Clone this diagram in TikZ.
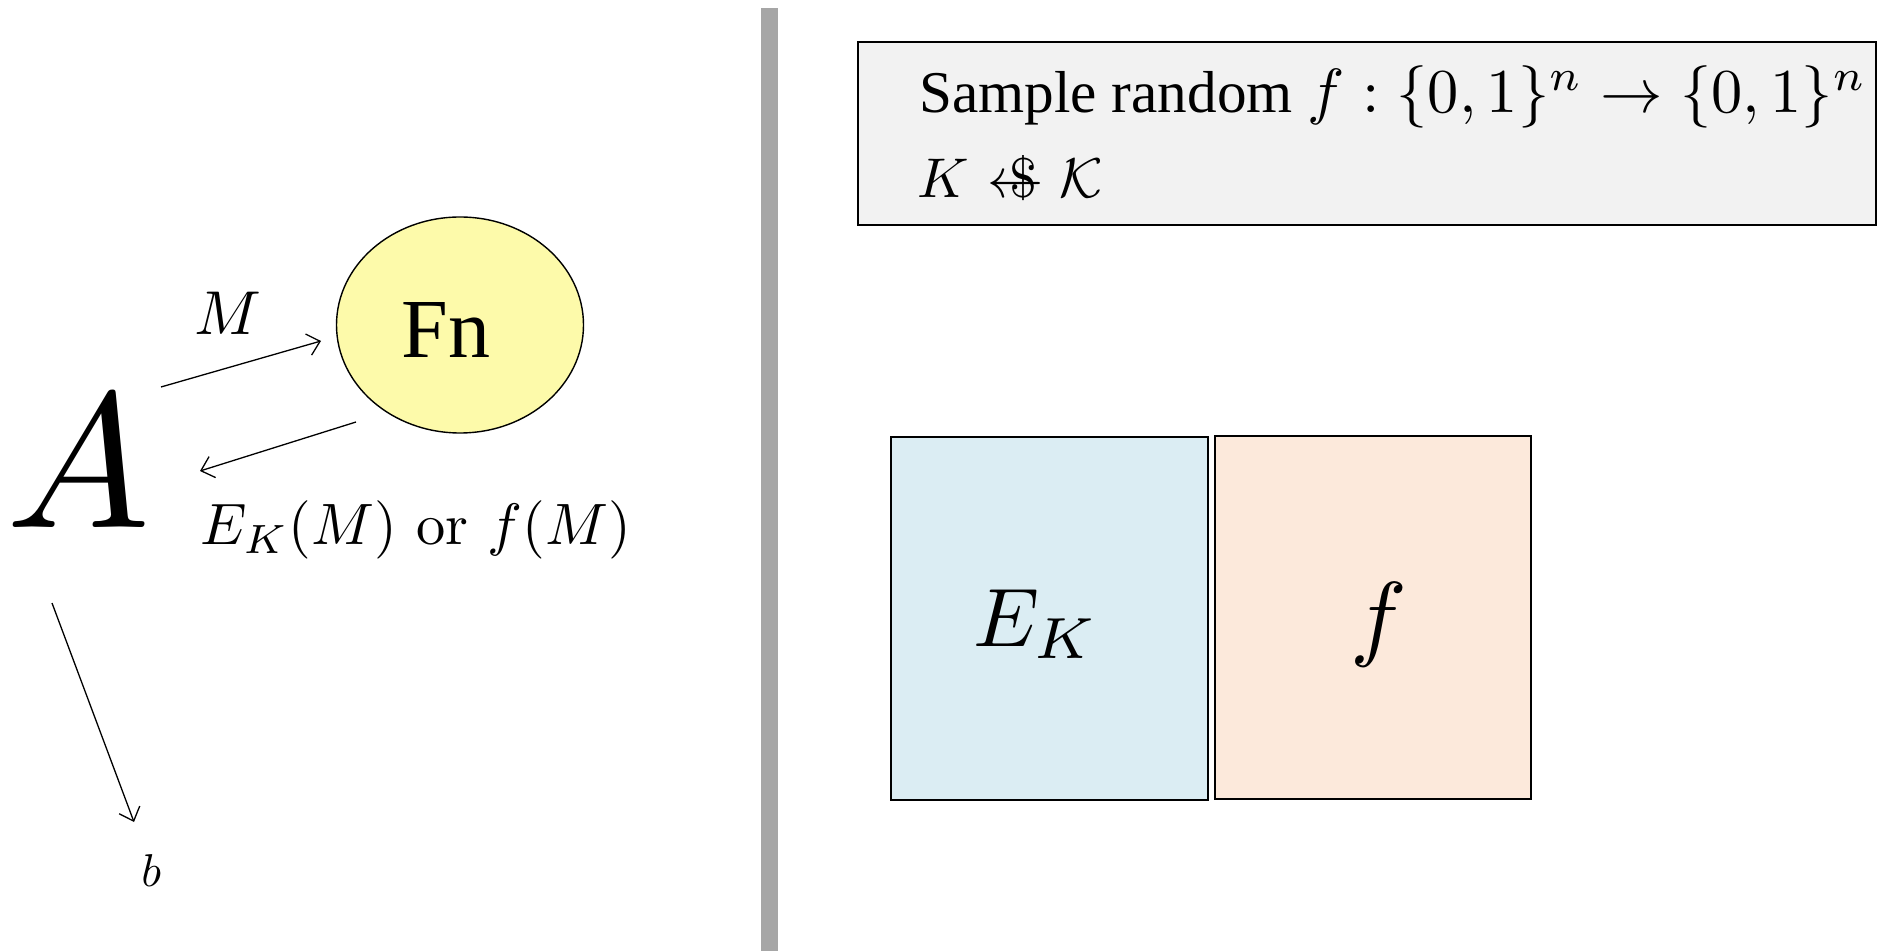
\documentclass[tikz,border=0pt]{standalone}
\usepackage{amsmath,amssymb}
\usepackage{graphicx}
\usepackage{fontspec}
\newfontfamily\serifalt{Liberation Serif}
\usetikzlibrary{arrows.meta,shapes.geometric}
\definecolor{fnyellow}{RGB}{253,250,170}
\definecolor{ekblue}{RGB}{219,237,243}
\definecolor{fpeach}{RGB}{252,233,219}
\definecolor{boxgrey}{RGB}{242,242,242}
\definecolor{bargrey}{RGB}{166,166,166}
\newcommand{\getsrnd}{\mathrel{\mkern1mu\mathord{\leftarrow}\mkern-11mu\mathord{\text{\$}}\mkern2mu}}
\tikzset{
  conn/.style={line width=0.65pt, -{Straight Barb[length=6pt,width=11pt,line width=0.65pt]}},
  lbl/.style={inner sep=0pt, anchor=base west},
  panel/.style={draw, line width=0.8pt, inner sep=0pt, anchor=north west}
}
\begin{document}
\begin{tikzpicture}[x=0.5pt,y=-0.5pt]
\useasboundingbox (0,0) rectangle (1879,951);
% separator bar
\fill[bargrey] (761,8) rectangle (778,951);
% setup box
\node[panel, fill=boxgrey, minimum width=509pt, minimum height=91.5pt] (setup) at (857,41) {};
\node[lbl] (line1) at (919,113) {{\serifalt\fontsize{29.6}{29.6}\selectfont Sample random }\scalebox{3.12}{$f : \{0,1\}^n \to \{0,1\}^n$}};
\node[lbl] (line2) at (917,198) {\scalebox{2.8}{$K \getsrnd \mathcal{K}$}};
% left side
\node[lbl] (A) at (6,528) {\scalebox{9.6}{$A$}};
\node[ellipse, draw, line width=0.7pt, fill=fnyellow, minimum width=123.5pt, minimum height=108pt, inner sep=0pt] (Fn) at (460,325) {};
\node[inner sep=0pt, anchor=base, font=\serifalt\fontsize{42}{42}\selectfont] (Fntext) at (446,358) {Fn};
\node[lbl] (lM) at (194,335) {\scalebox{3.1}{$M$}};
\node[lbl] (lout) at (200,545) {\scalebox{2.92}{$E_K(M)$ or $f(M)$}};
\node[lbl] (b) at (141,886) {\scalebox{2.3}{$b$}};
\coordinate (q1s) at (161,387);
\coordinate (q1e) at (321,341);
\coordinate (q2s) at (356,422);
\coordinate (q2e) at (200,471);
\coordinate (q3s) at (52,603);
\coordinate (q3e) at (134,822);
\draw[conn] (q1s) -- (q1e);
\draw[conn] (q2s) -- (q2e);
\draw[conn] (q3s) -- (q3e);
% right boxes
\node[panel, fill=ekblue, minimum width=158.5pt, minimum height=181.5pt] (EK) at (890,436) {};
\node[inner sep=0pt] (EKtext) at (1036,624) {\scalebox{4.15}{$E_K$}};
\node[panel, fill=fpeach, minimum width=158pt, minimum height=181.5pt] (F) at (1214,435) {};
\node[inner sep=0pt] (Ftext) at (1379,625) {\scalebox{4.75}{$f$}};
\end{tikzpicture}
\end{document}
